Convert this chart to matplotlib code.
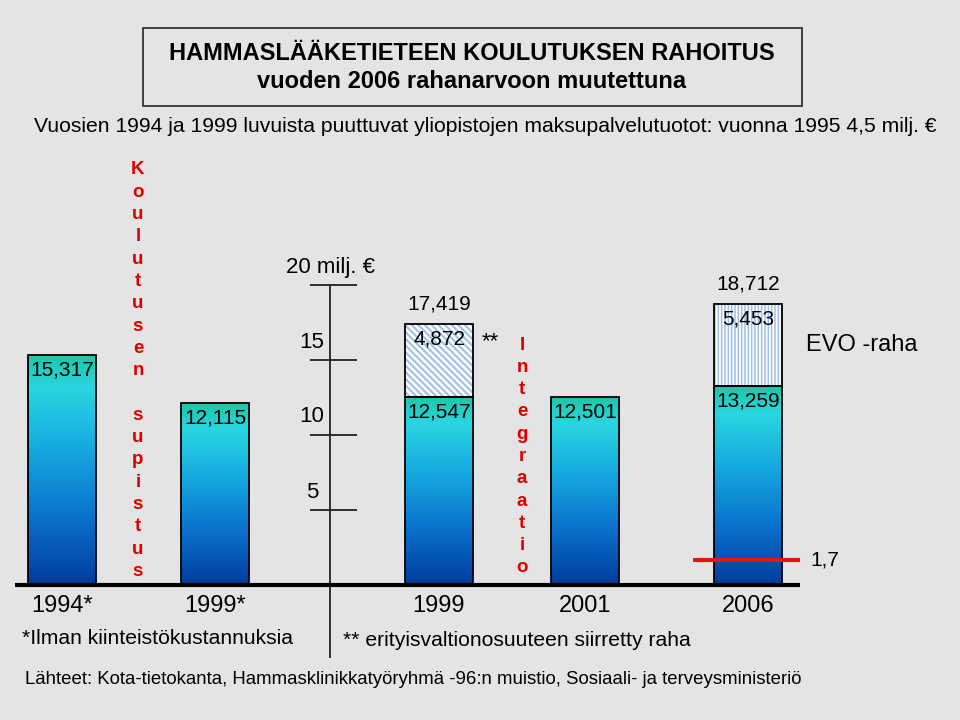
import matplotlib.pyplot as plt
import numpy as np
from matplotlib.colors import LinearSegmentedColormap
from matplotlib.patches import Rectangle

plt.rcParams['font.family'] = ['Liberation Sans', 'DejaVu Sans']
plt.rcParams['hatch.linewidth'] = 1.5

# data (milj. euroa, vuoden 2006 rahanarvo)
years = ['1994*', '1999*', '1999', '2001', '2006']
base = [15.317, 12.115, 12.547, 12.501, 13.259]
extra = [0, 0, 4.872, 0, 5.453]
evo_min = 1.7
scale_ticks = [5, 10, 15, 20]

# layout (pixels in a 960x720 figure, y value 0 at pixel 585, 15 px per unit)
xpos = [62, 215, 439, 585, 748]
bar_w = 68
W, H = 960, 720


def fxy(x, y):
    return x / W, 1 - y / H


def fmt(v):
    return f"{v:.3f}".replace('.', ',')


fig = plt.figure(figsize=(9.6, 7.2), dpi=100)
fig.patch.set_facecolor('#e4e4e4')
ax = fig.add_axes([0, 0, 1, 1])
ax.set_facecolor('none')

cmap = LinearSegmentedColormap.from_list('bar', [
    (0.0, '#003c9e'), (0.3, '#0a72cc'), (0.6, '#16aae0'),
    (0.86, '#2ad6e0'), (1.0, '#1ec6a6')])
grad = np.linspace(0, 1, 256).reshape(-1, 1)

bars = ax.bar(xpos, base, width=bar_w, facecolor='none', edgecolor='black',
              linewidth=1.3, zorder=3)
for rect in bars:
    x0, y0 = rect.get_x(), rect.get_y()
    im = ax.imshow(grad, cmap=cmap, origin='lower', aspect='auto', zorder=2,
                   extent=[x0, x0 + rect.get_width(), y0, y0 + rect.get_height()])
    im.set_clip_path(rect)

# siirretty raha / EVO-raha stacked on top
hatches = {2: ('\\\\\\\\\\', 1.5), 4: ('|||||', 1.1)}
for i, (h, lw) in hatches.items():
    with plt.rc_context({'hatch.linewidth': lw}):
        ax.bar(xpos[i], extra[i], bottom=base[i], width=bar_w, color='white',
               edgecolor='#9fbfe8', hatch=h, linewidth=0, zorder=2)
    ax.bar(xpos[i], extra[i], bottom=base[i], width=bar_w, fill=False,
           edgecolor='black', linewidth=1.3, zorder=3)

# value labels
for i, v in enumerate(base):
    ax.annotate(fmt(v), (xpos[i], v), xytext=(0, -15), textcoords='offset pixels',
                ha='center', va='center', fontsize=15, zorder=5)
    if extra[i]:
        top = v + extra[i]
        ax.annotate(fmt(extra[i]), (xpos[i], top), xytext=(0, -15),
                    textcoords='offset pixels', ha='center', va='center',
                    fontsize=15, zorder=5)
        ax.annotate(fmt(top), (xpos[i], top), xytext=(0, 20),
                    textcoords='offset pixels', ha='center', va='center',
                    fontsize=15, zorder=5)

# year labels
for x, yr in zip(xpos, years):
    ax.text(x, -1.4, yr, ha='center', va='center', fontsize=17)

# baseline and hand drawn scale
ax.hlines(0, 15, 800, color='black', linewidth=3, zorder=4)
ax.vlines(330, -4.85, max(scale_ticks), color='#222222', linewidth=1.3)
ax.hlines(scale_ticks, 310, 357, color='#222222', linewidth=1.3)
for t in scale_ticks[:-1]:
    ax.annotate(str(t), (330, t), xytext=(-18, 18), textcoords='offset pixels',
                ha='center', va='center', fontsize=16)
ax.annotate(f"{scale_ticks[-1]} milj. €", (330, scale_ticks[-1]), xytext=(0, 17),
            textcoords='offset pixels', ha='center', va='center', fontsize=16)

# EVO minimum line
ax.hlines(evo_min, 693, 800, color='#e01818', linewidth=3, zorder=4)
ax.text(810, evo_min, f"{evo_min:.1f}".replace('.', ','),
        ha='left', va='center', fontsize=15)

ax.set_xlim(0, W)
ax.set_ylim(-135 / 15, 585 / 15)
ax.axis('off')

# title box
fig.patches.append(Rectangle(fxy(143, 106), 659 / W, 78 / H, transform=fig.transFigure,
                             fill=False, edgecolor='#333333', linewidth=1.3))
fig.text(*fxy(472, 53), 'HAMMASLÄÄKETIETEEN KOULUTUKSEN RAHOITUS', ha='center',
         va='center', fontsize=17, fontweight='bold')
fig.text(*fxy(472, 81), 'vuoden 2006 rahanarvoon muutettuna', ha='center',
         va='center', fontsize=17, fontweight='bold')
fig.text(*fxy(485, 127), 'Vuosien 1994 ja 1999 luvuista puuttuvat yliopistojen '
         'maksupalvelutuotot: vuonna 1995 4,5 milj. €', ha='center', va='center',
         fontsize=15.2)

# red vertical words
for i, ch in enumerate('Koulutusen supistus'):
    fig.text(*fxy(138, 170 + i * 22.3), ch, ha='center', va='center',
             fontsize=13.5, fontweight='bold', color='#e00000')
for i, ch in enumerate('Integraatio'):
    fig.text(*fxy(522, 345 + i * 22.3), ch, ha='center', va='center',
             fontsize=13.5, fontweight='bold', color='#e00000')

fig.text(*fxy(490, 342), '**', ha='center', va='center', fontsize=16)
fig.text(*fxy(862, 345), 'EVO -raha', ha='center', va='center', fontsize=17)

fig.text(*fxy(22, 638), '*Ilman kiinteistökustannuksia', ha='left', va='center',
         fontsize=15.2)
fig.text(*fxy(343, 640), '** erityisvaltionosuuteen siirretty raha', ha='left',
         va='center', fontsize=15.2)
fig.text(*fxy(25, 680), 'Lähteet: Kota-tietokanta, Hammasklinikkatyöryhmä -96:n '
         'muistio, Sosiaali- ja terveysministeriö', ha='left', va='center',
         fontsize=13.4)

fig.savefig('out.png', dpi=100, facecolor=fig.get_facecolor())
